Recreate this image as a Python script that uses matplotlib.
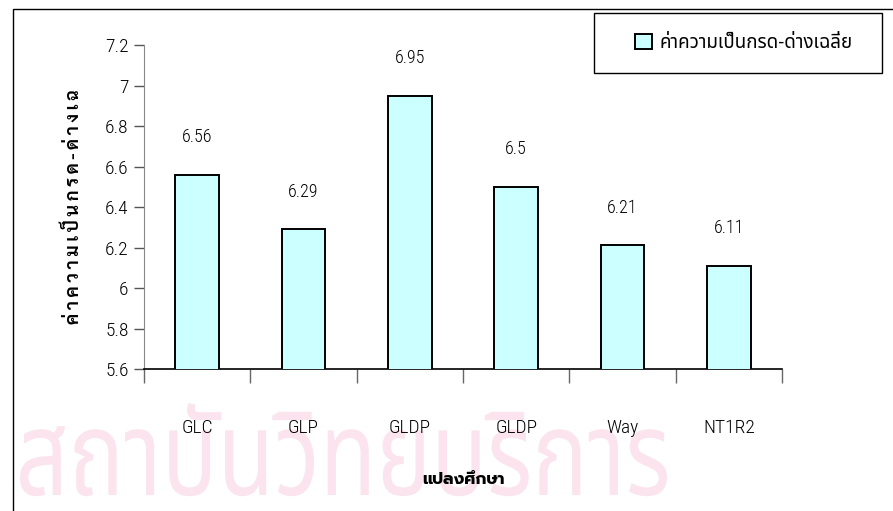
import unicodedata
import matplotlib
matplotlib.use('Agg')
import matplotlib.pyplot as plt
from matplotlib.patches import Rectangle, Patch, PathPatch
from matplotlib.textpath import TextPath
from matplotlib.font_manager import FontProperties
from matplotlib.transforms import Affine2D, IdentityTransform

# pH averages per study plot
plots = ['GLC', 'GLP', 'GLDP', 'GLDP', 'Way', 'NT1R2']
ph_mean = [6.56, 6.29, 6.95, 6.5, 6.21, 6.11]
value_labels = ['6.56', '6.29', '6.95', '6.5', '6.21', '6.11']
yticks = [5.6, 5.8, 6.0, 6.2, 6.4, 6.6, 6.8, 7.0, 7.2]
ytick_labels = ['5.6', '5.8', '6', '6.2', '6.4', '6.6', '6.8', '7', '7.2']
legend_label = 'ค่าความเป็นกรด-ด่างเฉลี่ย'
ylabel = 'ค่าความเป็นกรด-ด่างเฉ'
xlabel = 'แปลงศึกษา'
stamp = 'สถาบันวิทยบริการ'

narrow = ['Liberation Sans Narrow', 'Arial Narrow', 'Roboto Condensed',
          'Archivo Narrow', 'Liberation Sans', 'DejaVu Sans']
thai = ['Noto Sans Thai', 'DejaVu Sans']
plt.rcParams['font.family'] = narrow
plt.rcParams['font.weight'] = 'light'


def spaced(s, gap='\u2009'):
    # put a thin space before every base character, keep marks attached
    out = ''
    for i, ch in enumerate(s):
        if i > 0 and unicodedata.category(ch) != 'Mn':
            out += gap
        out += ch
    return out


fig = plt.figure(figsize=(8.93, 5.11), dpi=100)

# faint institute stamp behind the chart, squeezed to its pixel box
tp_font = FontProperties(family='Noto Sans Thai', weight='light')
tp = TextPath((0, 0), stamp, size=100, prop=tp_font)
body = TextPath((0, 0), 'ส', size=100, prop=tp_font).get_extents()
ext = tp.get_extents()
sx = 647 / ext.width
sy = 70 / body.height
stamp_tr = Affine2D().translate(-ext.x0, 0).scale(sx, sy).translate(20, 16)
fig.patches.append(PathPatch(stamp_tr.transform_path(tp),
                             transform=IdentityTransform(),
                             facecolor='#fbe4ed', edgecolor='none', zorder=-2))

# outer chart border
fig.patches.append(Rectangle((13 / 893, -0.1), 1.2, 1.1 - 9 / 511,
                             transform=fig.transFigure, fill=False,
                             edgecolor='black', linewidth=1.0, zorder=1))

ax = fig.add_axes([144 / 893, 1 - 369 / 511, 638 / 893, 324 / 511])
ax.set_facecolor('none')

x = list(range(len(plots)))
ax.bar(x, ph_mean, width=0.41, color='#ccffff',
       edgecolor='black', linewidth=1.4, zorder=3)
for xi, v, s in zip(x, ph_mean, value_labels):
    ax.annotate(s, (xi, v), xytext=(0, 27), textcoords='offset points',
                ha='center', va='center', fontsize=13)

ax.set_ylim(5.6, 7.2)
ax.set_xlim(-0.5, len(plots) - 0.5)
ax.set_yticks(yticks)
ax.set_yticklabels(ytick_labels, fontsize=14)
ax.tick_params(axis='y', length=7, width=1, color='#555555', pad=4)

# category boundaries get the tick marks, names sit at the centres
ax.set_xticks([i - 0.5 for i in range(len(plots) + 1)])
ax.set_xticklabels([])
ax.set_xticks(x, minor=True)
ax.set_xticklabels(plots, minor=True, fontsize=14)
ax.tick_params(axis='x', which='major', length=10, width=1, color='#666666')
ax.tick_params(axis='x', which='minor', length=0, pad=36)

for side in ['top', 'right']:
    ax.spines[side].set_visible(False)
ax.spines['left'].set_color('#888888')
ax.spines['bottom'].set_color('black')
ax.spines['bottom'].set_linewidth(1.2)

ax.set_xlabel(xlabel, family=['Prompt', 'Noto Sans Thai', 'DejaVu Sans'],
              fontsize=12, fontweight='bold', labelpad=25)
ax.set_ylabel(spaced(ylabel), family=['Sarabun', 'DejaVu Sans'], fontsize=13,
              fontweight='bold', labelpad=16)

# legend in its own framed box at the top right
fig.patches.append(Rectangle((594 / 893, 1 - 73 / 511), 288 / 893, 60 / 511,
                             transform=fig.transFigure, fill=False,
                             edgecolor='black', linewidth=1.0))
handle = Patch(facecolor='#ccffff', edgecolor='black', linewidth=1.4)
fig.legend([handle], [legend_label], loc='center',
           bbox_to_anchor=(744 / 893, 1 - 43 / 511), frameon=False,
           prop={'family': thai, 'size': 13.5}, handlelength=0.9,
           handleheight=0.9, handletextpad=0.4)

fig.savefig('out.png', dpi=100)
